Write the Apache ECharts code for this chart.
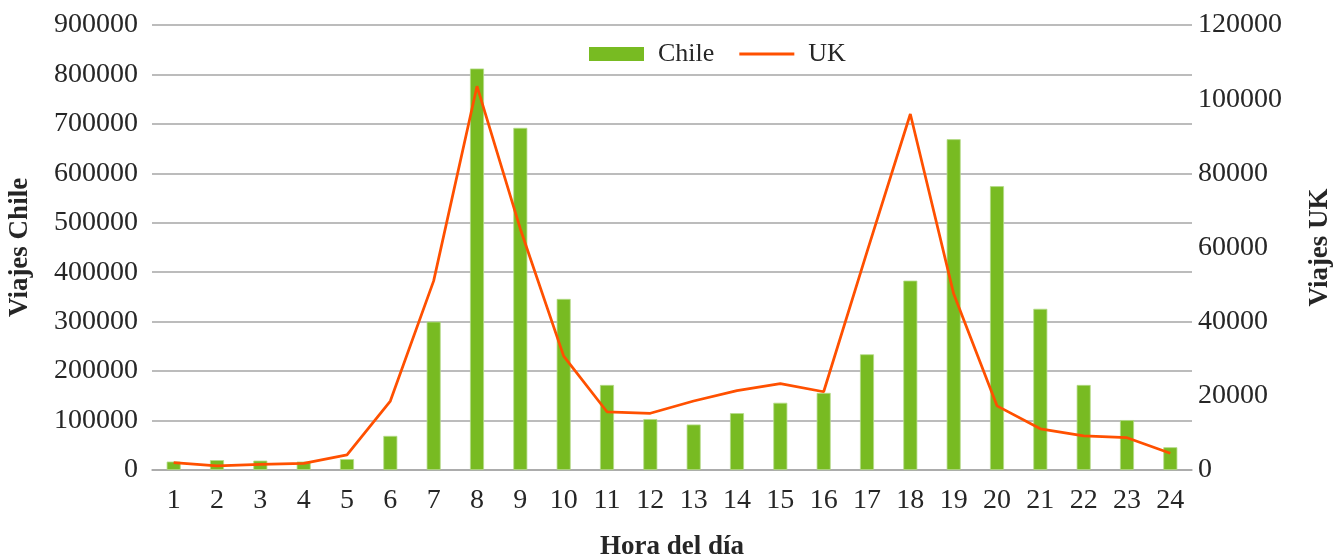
<!DOCTYPE html>
<html>
<head>
<meta charset="utf-8">
<script src="https://cdn.jsdelivr.net/npm/echarts@6/dist/echarts.min.js"></script>
<style>
  html, body { margin: 0; padding: 0; background: #fff; }
  #chart { width: 1338px; height: 558px; }
</style>
</head>
<body>
<div id="chart"></div>
<script>
// Hourly trip counts: Chile (bars, left axis) and UK (line, right axis)
const horas = ['1','2','3','4','5','6','7','8','9','10','11','12','13','14','15','16','17','18','19','20','21','22','23','24'];
const viajesChile = [17000, 20000, 19000, 17000, 22000, 69000, 300000, 812000, 692000, 346000, 172000, 103000, 92000, 115000, 136000, 156000, 234000, 383000, 669000, 574000, 326000, 172000, 101000, 46000];
const viajesUK = [2000, 1100, 1500, 1800, 4100, 18600, 51000, 103500, 65000, 30700, 15700, 15300, 18600, 21400, 23300, 21100, 58800, 96000, 47500, 17300, 11100, 9200, 8700, 4500];

const FONT = 'Liberation Serif';
const TXT = '#262626';
const GRID = '#a6a6a6';
const plain = v => String(v);

const chart = echarts.init(document.getElementById('chart'), null, { renderer: 'canvas' });
chart.setOption({
  animation: false,
  backgroundColor: '#ffffff',
  textStyle: { fontFamily: FONT, color: TXT },
  grid: { left: 152, right: 146, top: 25, bottom: 88, containLabel: false, outerBoundsMode: 'none' },
  legend: {
    left: 589, top: 41, padding: 0,
    itemWidth: 55, itemHeight: 14, itemGap: 25,
    textStyle: { fontFamily: FONT, fontSize: 26, color: TXT, padding: [0, 0, 0, 9] },
    data: [
      { name: 'Chile', icon: 'rect', itemStyle: { borderWidth: 0 } },
      { name: 'UK', icon: 'path://M0,0H56V3H0Z' }
    ]
  },
  xAxis: {
    type: 'category',
    data: horas,
    name: 'Hora del día',
    nameLocation: 'middle',
    nameGap: 64,
    nameTextStyle: { fontFamily: FONT, fontSize: 27, fontWeight: 'bold', color: TXT },
    axisLine: { lineStyle: { color: GRID, width: 1.5 } },
    axisTick: { show: false },
    axisLabel: { fontFamily: FONT, fontSize: 28, color: TXT, margin: 17 }
  },
  yAxis: [
    {
      type: 'value', position: 'left',
      min: 0, max: 900000, interval: 100000,
      name: 'Viajes Chile',
      nameLocation: 'middle', nameRotate: 90, nameGap: 118,
      nameTextStyle: { fontFamily: FONT, fontSize: 27, fontWeight: 'bold', color: TXT },
      axisLine: { show: false },
      axisTick: { show: false },
      axisLabel: { fontFamily: FONT, fontSize: 28, color: TXT, margin: 14, formatter: plain },
      splitLine: { lineStyle: { color: GRID, width: 1.5 } }
    },
    {
      type: 'value', position: 'right',
      min: 0, max: 120000, interval: 20000,
      name: 'Viajes UK',
      nameLocation: 'middle', nameRotate: 90, nameGap: 115,
      nameTextStyle: { fontFamily: FONT, fontSize: 27, fontWeight: 'bold', color: TXT },
      axisLine: { show: false },
      axisTick: { show: false },
      axisLabel: { fontFamily: FONT, fontSize: 28, color: TXT, margin: 6, formatter: plain },
      splitLine: { show: false }
    }
  ],
  series: [
    {
      name: 'Chile', type: 'bar', yAxisIndex: 0,
      data: viajesChile,
      barWidth: 14,
      itemStyle: { color: '#78bb22', borderColor: '#b4da88', borderWidth: 0.8 }
    },
    {
      name: 'UK', type: 'line', yAxisIndex: 1,
      data: viajesUK,
      symbol: 'none',
      lineStyle: { color: '#ff5000', width: 2.75 },
      itemStyle: { color: '#ff5000' },
      z: 3
    }
  ]
});
</script>
</body>
</html>
